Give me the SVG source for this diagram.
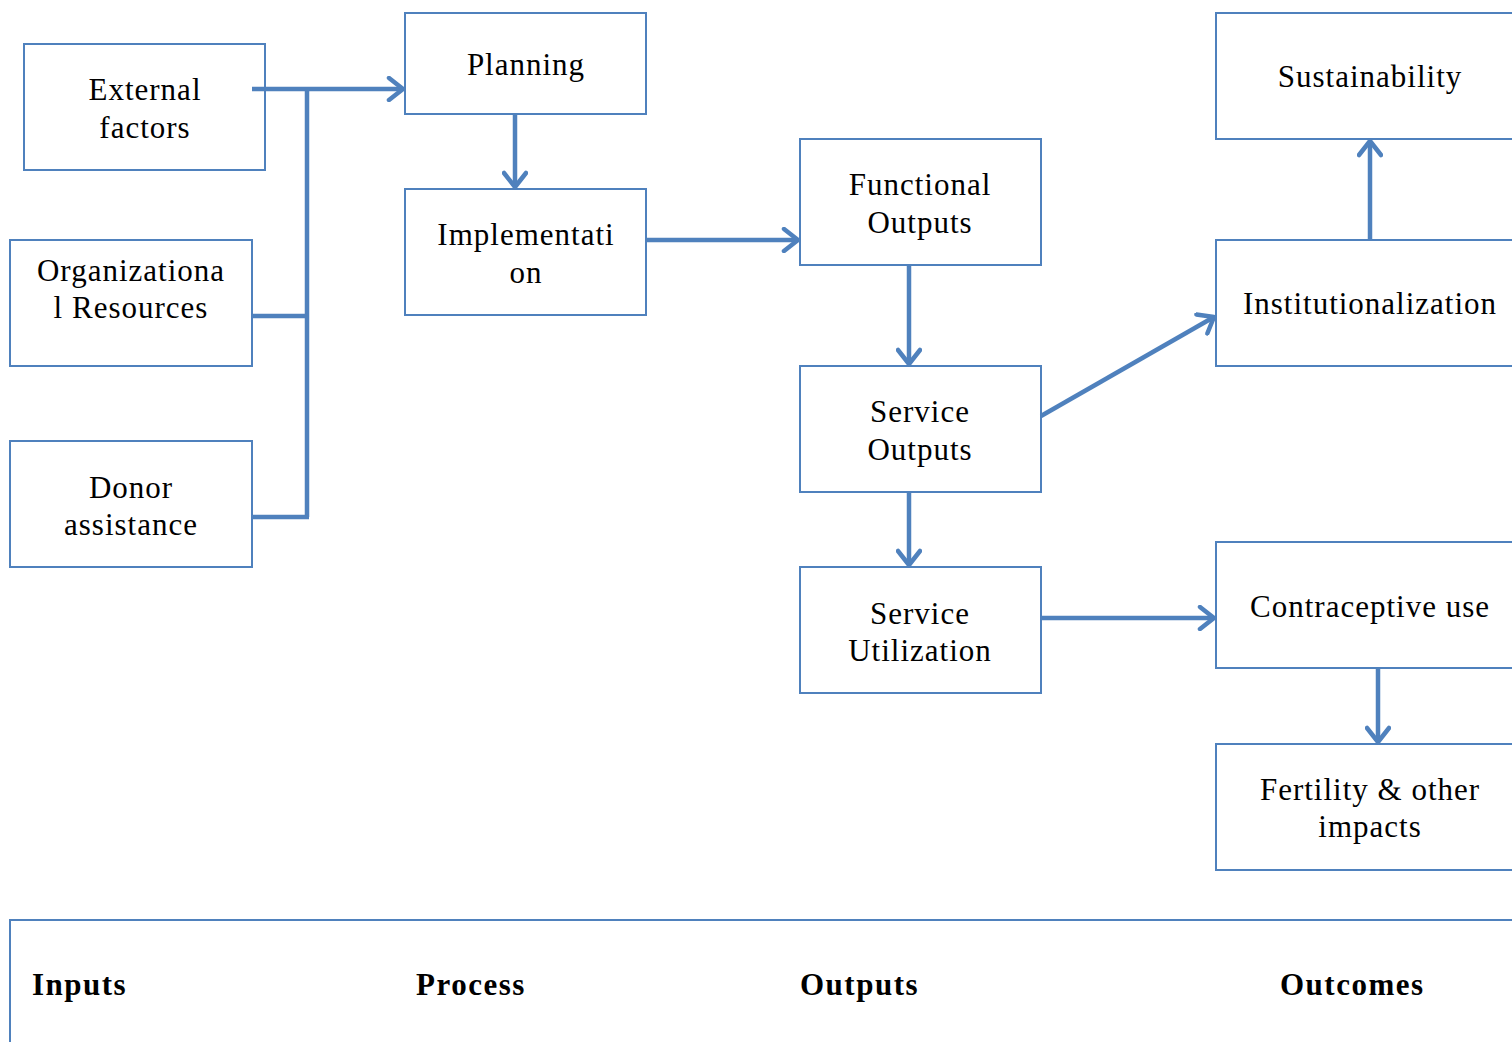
<svg xmlns="http://www.w3.org/2000/svg" width="1512" height="1042" viewBox="0 0 1512 1042">
<style>
.box{fill:#fff;stroke:#4F81BD;stroke-width:2}
.t{font-family:"Liberation Serif","DejaVu Serif",serif;font-size:31px;letter-spacing:1px;fill:#000;text-anchor:middle}
.c{fill:none;stroke:#4F81BD;stroke-width:4.5;stroke-linecap:butt}
.h{font-family:"Liberation Serif","DejaVu Serif",serif;font-size:31px;font-weight:bold;letter-spacing:1.5px;fill:#000}
</style>
<defs>
<marker id="ah" viewBox="0 0 26 26" refX="22" refY="13" markerWidth="26" markerHeight="26" markerUnits="userSpaceOnUse" orient="auto">
<path d="M8,2 L22,13 L8,24" fill="none" stroke="#4F81BD" stroke-width="4.5" stroke-linecap="round" stroke-linejoin="round"/>
</marker>
</defs>
<rect width="1512" height="1042" fill="#fff"/>
<g id="external"><rect class="box" x="24" y="44" width="241" height="126"/><text class="t" x="145" y="100">External</text><text class="t" x="145" y="138">factors</text></g>
<g id="organizational"><rect class="box" x="10" y="240" width="242" height="126"/><text class="t" x="131" y="281">Organizationa</text><text class="t" x="131" y="318">l Resources</text></g>
<g id="donor"><rect class="box" x="10" y="441" width="242" height="126"/><text class="t" x="131" y="498">Donor</text><text class="t" x="131" y="535">assistance</text></g>
<g id="planning"><rect class="box" x="405" y="13" width="241" height="101"/><text class="t" x="526" y="75">Planning</text></g>
<g id="implementation"><rect class="box" x="405" y="189" width="241" height="126"/><text class="t" x="526" y="245">Implementati</text><text class="t" x="526" y="283">on</text></g>
<g id="functional"><rect class="box" x="800" y="139" width="241" height="126"/><text class="t" x="920" y="195">Functional</text><text class="t" x="920" y="233">Outputs</text></g>
<g id="serviceoutputs"><rect class="box" x="800" y="366" width="241" height="126"/><text class="t" x="920" y="422">Service</text><text class="t" x="920" y="460">Outputs</text></g>
<g id="utilization"><rect class="box" x="800" y="567" width="241" height="126"/><text class="t" x="920" y="624">Service</text><text class="t" x="920" y="661">Utilization</text></g>
<g id="sustainability"><rect class="box" x="1216" y="13" width="310" height="126"/><text class="t" x="1370" y="87">Sustainability</text></g>
<g id="institutionalization"><rect class="box" x="1216" y="240" width="310" height="126"/><text class="t" x="1370" y="314">Institutionalization</text></g>
<g id="contraceptive"><rect class="box" x="1216" y="542" width="310" height="126"/><text class="t" x="1370" y="617">Contraceptive use</text></g>
<g id="fertility"><rect class="box" x="1216" y="744" width="310" height="126"/><text class="t" x="1370" y="800">Fertility &amp; other</text><text class="t" x="1370" y="837">impacts</text></g>
<g id="legend"><rect class="box" x="10" y="920" width="1520" height="140"/>
<text class="h" x="32" y="995">Inputs</text><text class="h" x="416" y="995">Process</text><text class="h" x="800" y="995">Outputs</text><text class="h" x="1280" y="995">Outcomes</text></g>
<g id="connectors">
<path class="c" d="M252,89 H403" marker-end="url(#ah)"/>
<path class="c" d="M307,89 V517"/>
<path class="c" d="M252,316 H307"/>
<path class="c" d="M252,517 H309"/>
<path class="c" d="M515,114 V187" marker-end="url(#ah)"/>
<path class="c" d="M646,240 H798" marker-end="url(#ah)"/>
<path class="c" d="M909,265 V364" marker-end="url(#ah)"/>
<path class="c" d="M909,492 V565" marker-end="url(#ah)"/>
<path class="c" d="M1041,416 L1214,317" marker-end="url(#ah)"/>
<path class="c" d="M1370,240 V141" marker-end="url(#ah)"/>
<path class="c" d="M1041,618 H1214" marker-end="url(#ah)"/>
<path class="c" d="M1378,668 V742" marker-end="url(#ah)"/>
</g>
</svg>
